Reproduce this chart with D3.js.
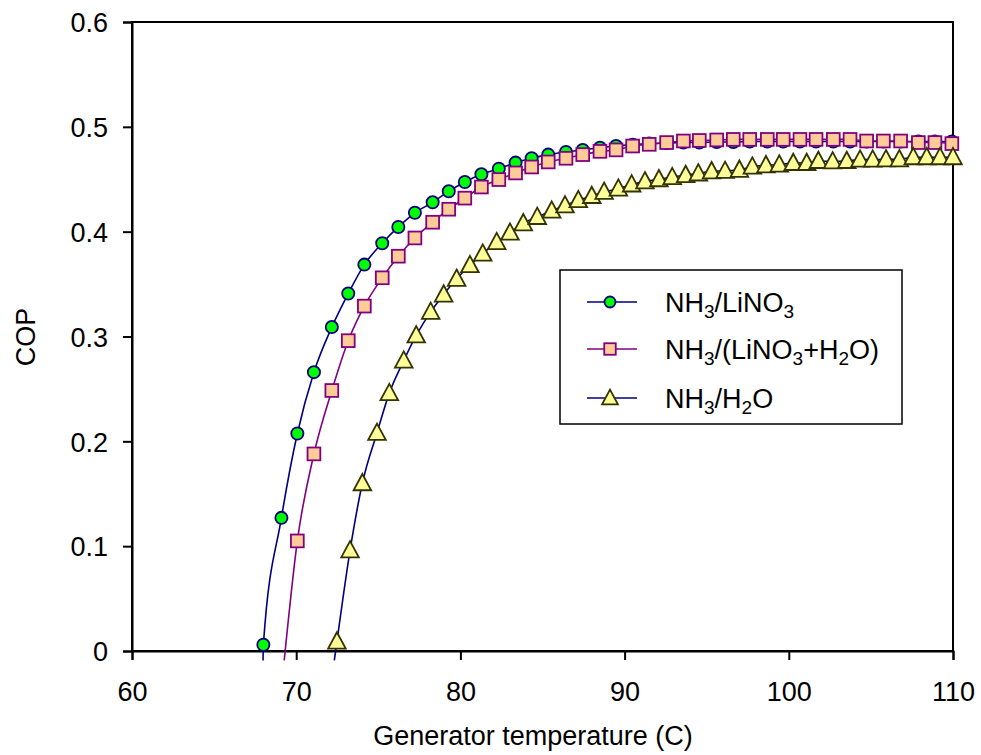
<!DOCTYPE html>
<html>
<head>
<meta charset="utf-8">
<script src="https://cdn.jsdelivr.net/npm/d3@7"></script>
<style>
  body { margin: 0; background: #fff; }
  text { font-family: "Liberation Sans", Arial, sans-serif; }
</style>
</head>
<body>
<div class="chart"></div>
<script>
// data

// temperature grid shared by the LiNO3 curves
const tempGrid = [68.0, 69.1, 70.07, 71.08, 72.17, 73.17, 74.15, 75.24, 76.22, 77.23,
  78.31, 79.29, 80.27, 81.28, 82.34, 83.36, 84.34, 85.35, 86.43, 87.45,
  88.5, 89.48, 90.49, 91.5, 92.56, 93.58, 94.55, 95.61, 96.62, 97.62,
  98.69, 99.66, 100.68, 101.66, 102.71, 103.73, 104.74, 105.76, 106.81, 107.89,
  108.9, 109.93]

const copLiNO3 = [0.006, 0.127, 0.2075, 0.266, 0.309, 0.341, 0.3686, 0.389, 0.4045, 0.418,
  0.428, 0.4385, 0.4474, 0.4547, 0.460, 0.4659, 0.470, 0.4735, 0.476, 0.478,
  0.480, 0.4817, 0.483, 0.484, 0.4845, 0.485, 0.485, 0.4855, 0.4855, 0.486,
  0.486, 0.486, 0.486, 0.486, 0.486, 0.486, 0.486, 0.486, 0.486, 0.486,
  0.486, 0.486]

// starts at the third grid temperature
const copMix = [0.105, 0.188, 0.2485, 0.296, 0.329, 0.356, 0.3766, 0.394, 0.409, 0.4214,
  0.432, 0.4426, 0.4497, 0.456, 0.4617, 0.4665, 0.470, 0.4735, 0.4766, 0.478,
  0.4817, 0.4833, 0.485, 0.4865, 0.487, 0.4875, 0.488, 0.488, 0.488, 0.488,
  0.488, 0.488, 0.488, 0.488, 0.4865, 0.4865, 0.4865, 0.485, 0.485, 0.484]

const tempH2O = [72.48, 73.28, 74.03, 74.92, 75.67, 76.55, 77.31, 78.19, 78.98, 79.77,
  80.58, 81.36, 82.21, 83.02, 83.83, 84.68, 85.56, 86.37, 87.18, 88.0,
  88.75, 89.62, 90.43, 91.24, 92.09, 92.9, 93.72, 94.49, 95.3, 96.12,
  96.99, 97.78, 98.61, 99.42, 100.27, 101.09, 101.8, 102.67, 103.53, 104.34,
  105.11, 105.92, 106.73, 107.58, 108.4, 109.21, 110.0]
const copH2O = [0.009, 0.096, 0.160, 0.208, 0.246, 0.277, 0.301, 0.3235, 0.340, 0.355,
  0.368, 0.379, 0.390, 0.399, 0.408, 0.414, 0.420, 0.425, 0.430, 0.434,
  0.438, 0.441, 0.445, 0.448, 0.450, 0.452, 0.454, 0.4555, 0.4576, 0.458,
  0.459, 0.462, 0.4633, 0.464, 0.4655, 0.4655, 0.4674, 0.467, 0.4674, 0.4687,
  0.4687, 0.469, 0.469, 0.471, 0.471, 0.471, 0.471]

// where each curve leaves the plot below zero (line only, no marker)
const lineStartT = [67.98, 69.27, 72.32]
const lineStartCop = [-0.009, -0.009, -0.009]

const seriesNames = ["NH_3/LiNO_3", "NH_3/(LiNO_3+H_2O)", "NH_3/H_2O"]
const xTicks = [60, 70, 80, 90, 100, 110]
const yTicks = [0, 0.1, 0.2, 0.3, 0.4, 0.5, 0.6]

const series = [
  { name: seriesNames[0], t: tempGrid, v: copLiNO3, shape: "circle", line: "#000080", fill: "#00ff00", stroke: "#000080" },
  { name: seriesNames[1], t: tempGrid.slice(2), v: copMix, shape: "square", line: "#800080", fill: "#ffcc99", stroke: "#800080" },
  { name: seriesNames[2], t: tempH2O, v: copH2O, shape: "triangle", line: "#000080", fill: "#ffff99", stroke: "#333300" }
]

const width = 981, height = 755
const plot = { left: 132, right: 953, top: 22, bottom: 651 }
const fontSize = 27

const svg = d3.select(".chart").append("svg")
  .attr("width", width)
  .attr("height", height)

const x = d3.scaleLinear().domain([60, 110]).range([plot.left, plot.right])
const y = d3.scaleLinear().domain([0, 0.6]).range([plot.bottom, plot.top])

// frame
svg.append("rect")
  .attr("x", plot.left).attr("y", plot.top)
  .attr("width", plot.right - plot.left).attr("height", plot.bottom - plot.top)
  .attr("fill", "none").attr("stroke", "#000").attr("stroke-width", 2)

const xAxis = svg.append("g")
  .attr("transform", `translate(0,${plot.bottom})`)
  .call(d3.axisBottom(x).tickValues(xTicks).tickSize(9).tickPadding(22).tickFormat(d3.format("d")))
const yAxis = svg.append("g")
  .attr("transform", `translate(${plot.left},0)`)
  .call(d3.axisLeft(y).tickValues(yTicks).tickSize(9).tickPadding(15).tickFormat(d => d === 0 ? "0" : d3.format(".1f")(d)))

for (const ax of [xAxis, yAxis]) {
  ax.select(".domain").attr("stroke-width", 2)
  ax.selectAll(".tick line").attr("stroke-width", 2)
  ax.selectAll("text").attr("font-size", fontSize).attr("fill", "#000")
    .style("font-family", '"Liberation Sans", Arial, sans-serif')
}
yAxis.selectAll("text").attr("dy", "0.36em")

svg.append("text")
  .attr("x", 533).attr("y", 745)
  .attr("text-anchor", "middle")
  .attr("font-size", fontSize)
  .text("Generator temperature (C)")

svg.append("text")
  .attr("transform", "translate(35,337) rotate(-90)")
  .attr("text-anchor", "middle")
  .attr("font-size", fontSize)
  .text("COP")

function drawMarker(g, shape, s, k) {
  if (shape === "circle") {
    g.append("circle").attr("r", 6.1 * k)
  } else if (shape === "square") {
    g.append("rect").attr("x", -6.4 * k).attr("y", -6.4 * k).attr("width", 12.8 * k).attr("height", 12.8 * k)
  } else {
    g.append("path").attr("d", `M0,${-9.3 * k}L${8.8 * k},${7 * k}L${-8.8 * k},${7 * k}Z`)
  }
  g.selectAll("*").attr("fill", s.fill).attr("stroke", s.stroke).attr("stroke-width", 1.8)
}

const line = d3.line()
  .x(d => x(d[0]))
  .y(d => y(d[1]))
  .curve(d3.curveMonotoneX)

series.forEach((s, i) => {
  const pts = [[lineStartT[i], lineStartCop[i]]].concat(s.t.map((t, j) => [t, s.v[j]]))
  svg.append("path")
    .datum(pts)
    .attr("d", line)
    .attr("fill", "none")
    .attr("stroke", s.line)
    .attr("stroke-width", 1.6)

  svg.append("g").selectAll("g")
    .data(pts.slice(1))
    .join("g")
      .attr("transform", d => `translate(${x(d[0])},${y(d[1])})`)
      .each(function () { drawMarker(d3.select(this), s.shape, s, 1) })
})

// legend
const legend = svg.append("g")
legend.append("rect")
  .attr("x", 560).attr("y", 270)
  .attr("width", 342).attr("height", 154)
  .attr("fill", "#fff").attr("stroke", "#000").attr("stroke-width", 1.5)

const rowY = [302, 349, 398]
series.forEach((s, i) => {
  legend.append("line")
    .attr("x1", 587).attr("x2", 637)
    .attr("y1", rowY[i]).attr("y2", rowY[i])
    .attr("stroke", s.line).attr("stroke-width", 1.6)
  const m = legend.append("g").attr("transform", `translate(610,${rowY[i]})`)
  drawMarker(m, s.shape, s, 0.9)

  const txt = legend.append("text")
    .attr("x", 665).attr("y", rowY[i] + 10)
    .attr("font-size", fontSize)
  // "_3" marks a subscript digit
  let lowered = false
  s.name.split(/_(\d)/).forEach((p, k) => {
    if (p === "") return
    if (k % 2 === 1) {
      txt.append("tspan").attr("font-size", 19).attr("dy", 6).text(p)
      lowered = true
    } else {
      txt.append("tspan").attr("dy", lowered ? -6 : 0).text(p)
      lowered = false
    }
  })
})
</script>
</body>
</html>
